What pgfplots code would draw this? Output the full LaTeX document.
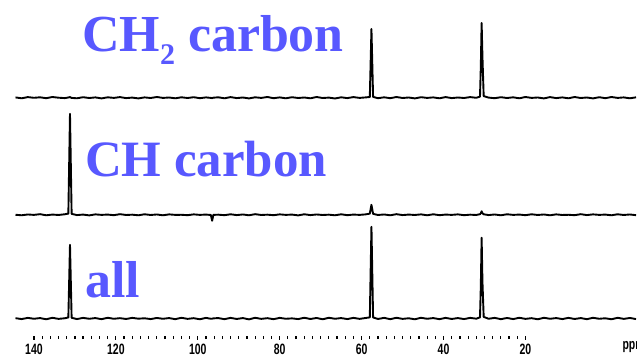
\documentclass[border=0pt]{standalone}
\usepackage{fontspec}
\setmainfont{Liberation Serif}
\newfontfamily\tickfont{Liberation Sans}
\usepackage{pgfplots}
\usepackage{pgfplotstable}
\pgfplotsset{compat=1.18}
\definecolor{labblue}{RGB}{88,88,255}
\begin{document}
\pgfplotstableread{
ppm ch2 ch all
144.5 259.5 142.0 38.5
143 258.6 141.5 37.6
141.5 259.8 142.3 38.8
140 259.1 141.9 37.9
138.5 259.6 142.6 38.6
137 258.7 141.5 37.4
135.5 259.9 142.2 38.9
134 259.2 141.8 37.8
132.5 258.8 142.5 38.4
131.6 259.4 143.2 39.2
131.2 259.8 243.0 112.0
130.8 259.0 142.9 38.9
129.5 258.6 141.7 37.6
128 259.7 142.2 38.8
126.5 258.9 141.4 37.9
125 259.5 142.4 38.6
123.5 258.5 141.9 37.5
122 259.6 142.2 38.9
120.5 259.0 141.6 37.9
119 259.8 142.6 38.5
117.5 258.8 141.8 37.7
116 259.3 142.1 38.8
114.5 258.5 141.5 38.0
113 259.5 142.5 38.4
111.5 258.9 141.8 37.6
110 259.9 142.3 38.7
108.5 259.0 141.5 37.9
107 259.4 142.4 38.6
105.5 258.6 141.9 37.5
104 259.6 142.0 38.9
102.5 258.9 141.6 37.8
101 259.7 142.4 38.5
99.5 258.7 141.9 37.4
98 259.5 142.2 38.8
96.8 259.0 141.8 37.9
96.5 258.8 136.0 38.0
96.2 259.2 141.9 38.3
95 259.6 142.1 38.6
93.5 258.6 141.6 37.5
92 259.8 142.5 38.8
90.5 258.8 141.7 37.7
89 259.4 142.3 38.6
87.5 258.5 141.5 37.3
86 259.6 142.6 38.9
84.5 259.0 141.8 37.8
83 259.9 142.1 38.5
81.5 258.7 141.6 37.5
80 259.5 142.4 38.8
78.5 258.6 141.9 37.9
77 259.7 142.2 38.3
75.5 258.9 141.4 37.6
74 259.4 142.5 38.9
72.5 258.6 141.7 37.7
71 259.9 142.3 38.7
69.5 258.9 141.8 37.4
68 259.3 142.1 38.9
66.5 258.4 141.5 37.9
65 259.6 142.5 38.6
63.5 258.8 141.6 37.6
62 259.8 142.2 38.8
60.5 259.0 141.9 37.8
59 259.5 142.4 38.7
58.0 259.9 143.2 39.3
57.6 328.0 152.0 130.0
57.2 260.0 142.9 39.2
56 258.7 141.8 37.7
54.5 259.6 142.3 38.8
53 258.7 141.5 37.5
51.5 259.9 142.6 38.9
50 258.9 141.7 37.8
48.5 259.4 142.2 38.4
47 258.5 141.8 37.4
45.5 259.7 142.4 38.9
44 259.0 141.5 37.9
42.5 259.5 142.5 38.6
41 258.6 141.6 37.5
39.5 259.8 142.2 38.8
38 258.8 141.9 37.7
36.5 259.4 142.4 38.6
35 258.9 141.6 37.6
33.5 259.8 142.1 38.8
32 259.1 141.8 38.0
31.1 260.3 142.6 39.3
30.9 290.0 143.5 70.0
30.7 334.0 145.5 119.0
30.5 300.0 143.5 75.0
30.2 260.8 142.5 39.8
29 259.3 141.7 37.9
27.5 258.7 142.3 38.8
26 259.7 141.5 37.5
24.5 258.9 142.5 38.7
23 259.6 141.9 37.6
21.5 258.6 142.2 38.9
20 259.9 141.6 37.8
18.5 259.0 142.5 38.5
17 259.4 141.8 37.4
15.5 258.5 142.3 38.9
14 259.8 141.5 37.9
12.5 258.8 142.4 38.6
11 259.5 141.8 37.6
9.5 258.6 142.0 38.8
8 259.9 141.6 37.7
6.5 258.9 142.6 38.6
5 259.4 141.7 37.5
3.5 258.5 142.4 38.9
2 259.7 141.9 37.9
0.5 258.7 142.2 38.4
-1 259.9 141.5 37.4
-2.5 259.0 142.5 38.9
-4 259.5 141.8 37.8
-5.5 258.6 142.3 38.7
-7 259.6 141.6 37.6
}\spec
\begin{tikzpicture}
\path (0,0) rectangle (637pt,357pt);
\begin{axis}[
  at={(0pt,19pt)}, anchor=south west,
  width=637pt, height=338pt, scale only axis,
  xmin=-7.07, xmax=148.29, x dir=reverse,
  ymin=19, ymax=357,
  axis x line*=bottom, hide y axis,
  x axis line style={draw=none},
  xtick={140,120,100,80,60,40,20},
  minor x tick num=9,
  major tick length=4pt, minor tick length=3pt,
  every tick/.style={black, line width=1.2pt},
  tick align=center,
  /pgf/number format/assume math mode=true,
  xticklabel style={anchor=north, inner sep=0pt, yshift=-4pt,
    font=\tickfont\bfseries\fontsize{15}{15}\selectfont, xscale=0.7},
  clip=false,
]
\addplot[black, line width=1.9pt, line join=round] table[x=ppm, y=ch2] {\spec};
\addplot[black, line width=1.9pt, line join=round] table[x=ppm, y=ch] {\spec};
\addplot[black, line width=1.9pt, line join=round] table[x=ppm, y=all] {\spec};
\end{axis}
\node[overlay, anchor=north west, inner sep=0pt, xscale=0.7, font=\tickfont\bfseries\fontsize{15}{15}\selectfont] at (623pt,15pt) {ppm};
\node[anchor=base west, inner sep=0pt, text=labblue, font=\bfseries\fontsize{52}{52}\selectfont] at (82pt,305pt) {CH\raisebox{-13pt}{\fontsize{30}{30}\selectfont 2} carbon};
\node[anchor=base west, inner sep=0pt, text=labblue, font=\bfseries\fontsize{51}{51}\selectfont] at (85pt,180pt) {CH carbon};
\node[anchor=base west, inner sep=0pt, text=labblue, font=\bfseries\fontsize{52}{52}\selectfont] at (85pt,59pt) {all};
\end{tikzpicture}
\end{document}
